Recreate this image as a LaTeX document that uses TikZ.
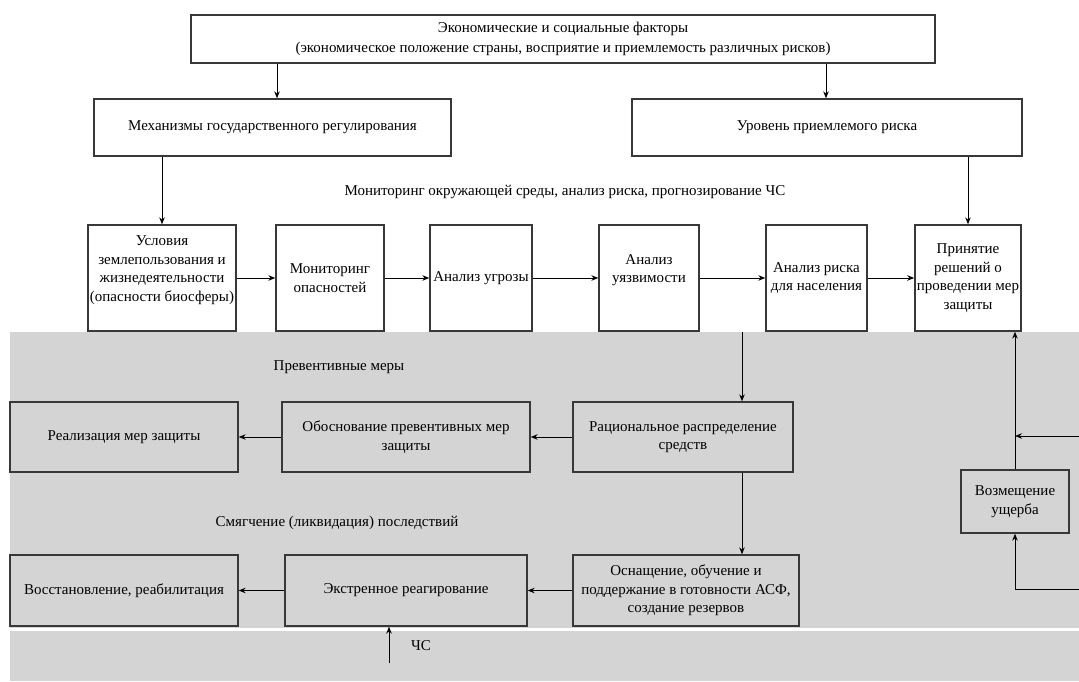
\documentclass[tikz,border=0pt]{standalone}
\usepackage{fontspec}
\setmainfont{Liberation Serif}
\usetikzlibrary{arrows.meta}
\definecolor{bggray}{RGB}{212,212,212}
\begin{document}
\begin{tikzpicture}[x=1pt,y=-1pt,
  box/.style={draw=black!78, line width=1.3pt, rectangle, align=center, inner sep=2pt,
              font=\fontsize{15}{18.5}\selectfont},
  conn/.style={draw=black, line width=1pt, -{Stealth[length=7pt,width=5.5pt]}},
  plain/.style={draw=black, line width=1pt},
  lbl/.style={font=\fontsize{15}{18}\selectfont, inner sep=0pt}]
\useasboundingbox (0,0) rectangle (1079,681);
% background of lower part
\fill[bggray] (10,332) rectangle (1079,681);
\fill[white] (10,627.5) rectangle (1079,631);

% top level
\node[box, minimum width=744, minimum height=48, font=\fontsize{15}{20}\selectfont] (econ) at (563,39)
  {Экономические и социальные факторы\\(экономическое положение страны, восприятие и приемлемость различных рисков)};
\node[box, minimum width=357, minimum height=57] (mech) at (272.5,127.5) {Механизмы государственного регулирования};
\node[box, minimum width=390, minimum height=57] (level) at (827,127.5) {Уровень приемлемого риска};

\node[lbl] (monlbl) at (565,192) {Мониторинг окружающей среды, анализ риска, прогнозирование ЧС};

% middle row
\node[box, minimum width=144, minimum height=106] (usl) at (162,278)
  {Условия\\землепользования и\\жизнедеятельности\\(опасности биосферы)\\\mbox{}};
\node[box, minimum width=108, minimum height=106] (mon) at (330,278) {Мониторинг\\опасностей};
\node[box, minimum width=102, minimum height=106] (ugr) at (481,278) {Анализ угрозы};
\node[box, minimum width=100, minimum height=106] (uyaz) at (649,278) {Анализ\\уязвимости\\\mbox{}};
\node[box, minimum width=101, minimum height=106] (risk) at (816.5,278) {Анализ риска\\для населения};
\node[box, minimum width=106, minimum height=106] (prin) at (968,278) {Принятие\\решений о\\проведении мер\\защиты};

% preventive
\node[lbl] (prevlbl) at (339,367) {Превентивные меры};
\node[box, minimum width=228, minimum height=70] (real) at (124,437) {Реализация мер защиты};
\node[box, minimum width=248, minimum height=70] (obos) at (406,437) {Обоснование превентивных мер\\защиты};
\node[box, minimum width=220, minimum height=70] (rac) at (683,437) {Рациональное распределение\\средств};
\node[box, minimum width=108, minimum height=63] (vozm) at (1015,501.5) {Возмещение\\ущерба};

% mitigation
\node[lbl] (mitlbl) at (337,523) {Смягчение (ликвидация) последствий};
\node[box, minimum width=228, minimum height=71] (vosst) at (124,590.5) {Восстановление, реабилитация};
\node[box, minimum width=242, minimum height=71] (ekst) at (406,590.5) {Экстренное реагирование};
\node[box, minimum width=226, minimum height=71] (osn) at (686,590.5) {Оснащение, обучение и\\поддержание в готовности АСФ,\\создание резервов};

\node[lbl] (cslbl) at (421,646) {ЧС};

% helper coordinates
\coordinate (xa) at (277,0);
\coordinate (xb) at (826,0);
\coordinate (dist) at (742,332);
\coordinate (rin1) at (1079,436);
\coordinate (rin2) at (1079,589);
\coordinate (cs) at (389,663);

% connectors
\draw[conn] (econ.south -| xa) -- (mech.north -| xa);
\draw[conn] (econ.south -| xb) -- (level.north -| xb);
\draw[conn] (mech.south -| usl.north) -- (usl.north);
\draw[conn] (level.south -| prin.north) -- (prin.north);
\draw[conn] (usl.east) -- (mon.west);
\draw[conn] (mon.east) -- (ugr.west);
\draw[conn] (ugr.east) -- (uyaz.west);
\draw[conn] (uyaz.east) -- (risk.west);
\draw[conn] (risk.east) -- (prin.west);
\draw[conn] (dist) -- (rac.north -| dist);
\draw[conn] (rac.south -| dist) -- (osn.north -| dist);
\draw[conn] (rac.west) -- (obos.east);
\draw[conn] (obos.west) -- (real.east);
\draw[conn] (osn.west) -- (ekst.east);
\draw[conn] (ekst.west) -- (vosst.east);
\draw[conn] (vozm.north) -- (vozm.north |- prin.south);
\draw[conn] (rin1) -- (rin1 -| vozm.north);
\draw[conn] (rin2) -| (vozm.south);
\draw[conn] (cs) -- (cs |- ekst.south);
\end{tikzpicture}
\end{document}
